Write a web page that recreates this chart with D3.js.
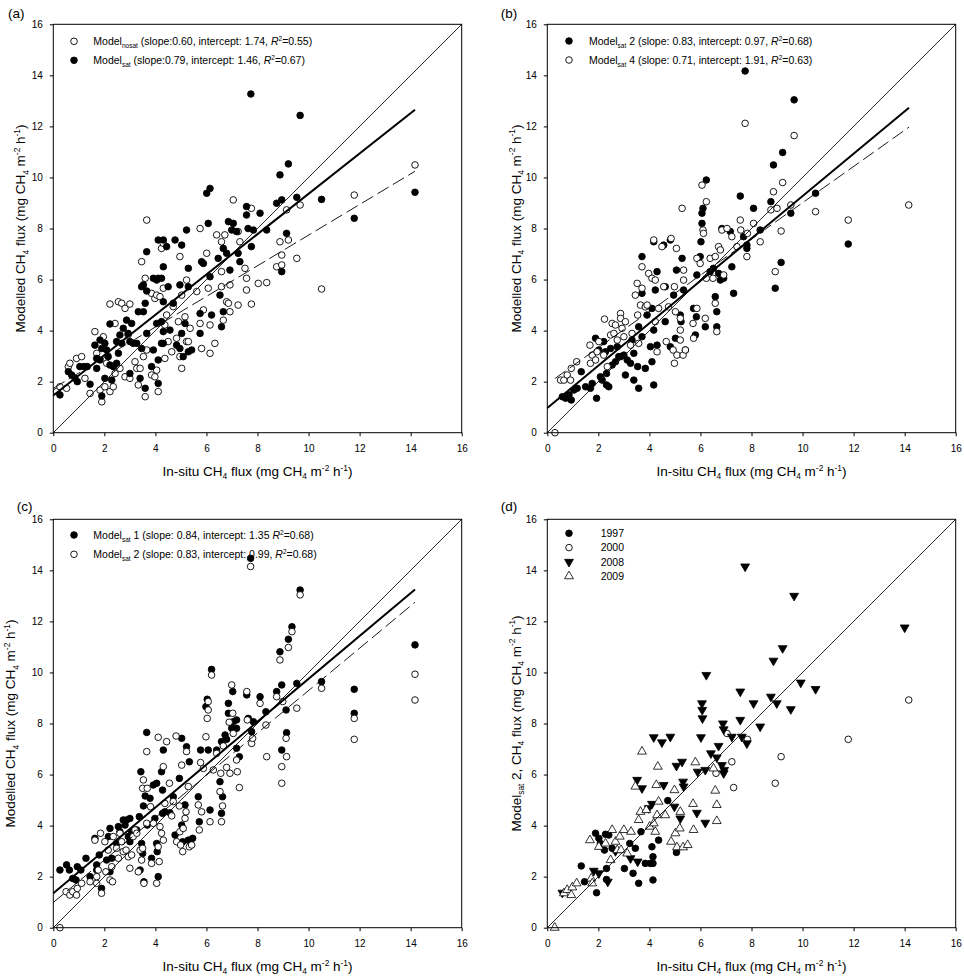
<!DOCTYPE html>
<html>
<head>
<meta charset="utf-8">
<script src="https://cdn.jsdelivr.net/npm/d3@7"></script>
<style>
body { margin: 0; background: #fff; }
svg text { font-family: "Liberation Sans", Arial, Helvetica, sans-serif; fill: #000; }
</style>
</head>
<body>
<div id="chart"></div>
<script>
// ---- data: [in-situ, modelled] in mg CH4 m-2 h-1 ----
var ticks = [0, 2, 4, 6, 8, 10, 12, 14, 16];

// (a) Model_nosat (open) and Model_sat (filled)
var aNosat = [[0.13,1.61],[0.26,1.8],[0.52,1.74],[0.59,2.59],[0.65,2.72],[0.91,2.91],[1.11,2.98],[1.24,2.13],[1.44,1.54],
  [1.63,3.96],[1.7,3.11],[1.96,3.76],[1.83,1.67],[1.9,1.21],[2.02,1.8],[2.09,2.72],[2.22,5.04],[2.22,1.61],[2.35,1.8],
  [2.42,2.32],[2.42,4.28],[2.55,5.13],[2.68,5.07],[2.81,4.87],[2.61,2.52],[2.81,2.19],[3.0,2.13],[3.0,5.04],[2.93,3.83],
  [3.2,2.78],[3.27,2.52],[3.33,1.87],[3.4,2.52],[3.46,6.7],[3.6,6.05],[3.6,1.41],[3.53,2.98],[3.66,8.33],[3.66,3.24],
  [3.85,2.26],[3.85,5.46],[3.98,5.26],[4.05,5.39],[4.18,5.33],[3.98,2.19],[4.05,2.45],[4.11,1.61],[4.24,7.22],[4.31,7.42],
  [4.31,5.66],[4.37,4.22],[4.37,2.91],[4.44,4.61],[4.5,3.57],[4.64,3.17],[4.7,4.94],[4.83,3.7],[4.9,4.35],[4.96,6.9],
  [4.96,2.98],[5.03,5.39],[5.03,2.52],[5.16,4.54],[5.22,5.98],[5.22,3.57],[5.29,3.57],[5.36,4.09],[5.62,5.53],[5.75,8.0],
  [5.75,4.28],[5.81,3.3],[5.88,4.81],[6.01,7.03],[6.07,5.66],[6.14,4.22],[6.14,3.11],[6.33,3.5],[6.4,7.75],[6.59,7.48],
  [6.59,6.31],[6.59,5.72],[6.66,4.41],[6.72,7.75],[6.79,5.13],[6.86,5.07],[6.92,5.79],[6.92,4.74],[7.05,9.12],[7.24,7.88],
  [7.24,5.0],[7.31,7.48],[7.51,6.44],[7.57,6.05],[7.57,5.59],[7.76,8.79],[7.76,5.04],[8.03,5.85],[8.36,5.88],[8.75,6.5],
  [8.88,7.48],[8.95,6.96],[8.95,6.57],[9.14,8.73],[9.21,7.55],[9.54,6.83],[9.67,8.92],[10.51,5.63],[11.79,9.31],[14.17,10.49]];
var aSat = [[0.26,1.48],[0.59,2.39],[0.72,2.26],[0.85,2.13],[0.94,2.0],[1.04,2.59],[1.2,2.59],[1.33,2.59],[1.44,1.9],
  [1.63,3.43],[1.7,2.91],[1.7,2.52],[1.83,3.63],[1.9,3.3],[1.83,2.85],[1.9,1.44],[2.02,2.13],[2.02,3.5],[2.09,3.24],
  [2.22,4.26],[2.15,2.98],[2.22,2.65],[2.29,2.06],[2.35,2.59],[2.48,3.57],[2.55,3.11],[2.48,2.72],[2.61,3.83],[2.68,3.5],
  [2.74,4.09],[2.87,4.41],[2.93,3.89],[3.0,3.57],[3.0,2.32],[3.07,4.28],[3.13,3.5],[3.27,3.5],[3.33,4.74],[3.4,2.13],
  [3.46,3.3],[3.46,5.72],[3.53,5.79],[3.53,4.74],[3.6,1.74],[3.6,5.07],[3.66,5.55],[3.66,3.89],[3.66,7.09],[3.85,2.59],
  [3.92,3.24],[3.92,6.05],[4.05,5.98],[4.11,6.05],[4.24,6.05],[4.05,4.28],[4.11,2.85],[4.11,1.93],[4.11,7.55],[4.31,7.55],
  [4.44,7.29],[4.24,4.35],[4.31,3.96],[4.24,3.5],[4.31,3.5],[4.31,5.13],[4.31,6.5],[4.5,5.72],[4.57,4.02],[4.77,7.55],
  [4.7,5.07],[4.83,3.43],[5.03,7.35],[4.96,5.79],[5.03,3.89],[4.96,3.3],[5.16,4.28],[5.09,2.98],[5.22,7.94],[5.29,6.44],
  [5.29,5.72],[5.29,3.17],[5.42,3.24],[5.75,4.67],[5.75,3.89],[5.81,6.7],[5.88,6.63],[6.01,9.38],[6.07,8.2],[6.14,9.57],
  [6.14,6.11],[6.2,4.61],[6.46,6.83],[6.53,5.39],[6.59,4.15],[6.66,4.74],[6.66,7.22],[6.79,7.03],[6.86,8.27],[6.92,6.37],
  [6.99,7.94],[7.05,8.2],[7.18,7.88],[7.24,7.03],[7.31,6.7],[7.57,8.86],[7.57,8.53],[7.63,8.0],[7.76,7.29],[7.84,7.94],
  [7.74,13.27],[8.1,8.6],[8.36,7.94],[8.75,8.99],[8.88,10.1],[8.95,9.12],[8.95,6.31],[9.14,7.81],[9.21,10.53],[9.54,9.22],
  [9.67,12.43],[10.51,9.14],[11.79,8.4],[14.17,9.42]];
var aFits = [[0.60, 1.74], [0.79, 1.46]];        // [slope, intercept] nosat, sat
var aFitRange = [[0, 14.17], [0, 14.17]];

// (b) Model_sat 2 (filled) and Model_sat 4 (open)
var bSat2 = [[0.59,1.41],[0.72,1.35],[0.85,1.48],[0.94,1.28],[1.04,1.67],[1.17,1.74],[1.33,2.39],[1.5,1.8],[1.69,1.74],
  [1.76,1.93],[1.89,3.7],[1.93,1.35],[2.02,3.24],[2.08,2.19],[2.15,2.06],[2.21,3.57],[2.28,3.17],[2.32,2.32],[2.32,1.87],
  [2.41,1.8],[2.48,3.3],[2.54,2.65],[2.67,2.78],[2.74,3.37],[2.8,2.98],[2.87,2.98],[3.0,3.04],[3.06,2.26],[3.13,2.85],
  [3.26,2.72],[3.32,3.63],[3.39,3.11],[3.39,2.06],[3.54,2.59],[3.58,1.74],[3.58,4.15],[3.71,6.9],[3.71,5.46],[3.71,3.76],
  [3.84,2.52],[3.91,4.61],[4.04,3.37],[4.1,4.87],[4.1,2.78],[4.17,1.87],[4.17,7.48],[4.17,4.02],[4.23,5.59],[4.3,6.31],
  [4.3,3.43],[4.56,7.35],[4.62,5.72],[4.62,4.35],[4.82,7.55],[4.82,3.37],[4.95,5.39],[5.02,3.7],[5.06,6.37],[5.21,4.61],
  [5.24,4.35],[5.28,6.83],[5.34,5.59],[5.41,3.24],[5.73,4.87],[5.8,3.83],[5.84,4.54],[5.86,6.18],[5.99,6.9],[6.02,7.48],
  [6.06,8.6],[6.06,8.2],[6.1,8.79],[6.19,4.15],[6.23,9.9],[6.38,6.31],[6.51,6.44],[6.58,5.33],[6.64,4.74],[6.64,4.15],
  [6.71,6.24],[6.78,5.98],[6.84,8.0],[6.91,6.05],[7.17,7.88],[7.23,6.5],[7.3,5.46],[7.56,9.27],[7.69,7.68],[7.75,14.17],
  [7.82,7.35],[7.82,7.22],[8.08,8.79],[8.34,7.94],[8.76,9.05],[8.86,10.49],[8.93,5.66],[9.16,6.67],[9.22,10.98],[9.54,8.6],
  [9.67,13.04],[10.51,9.38],[11.79,7.39]];
var bSat4 = [[0.3,0.0],[0.52,2.06],[0.65,2.06],[0.78,2.26],[0.91,2.06],[0.94,2.52],[1.15,2.78],[1.67,3.43],[1.69,2.72],
  [1.76,3.04],[1.89,2.85],[1.95,3.17],[2.02,3.57],[2.21,3.04],[2.24,4.45],[2.35,2.59],[2.48,3.83],[2.54,4.28],[2.61,3.89],
  [2.67,4.22],[2.74,3.63],[2.87,4.67],[2.87,4.48],[2.93,4.09],[3.06,4.35],[3.0,3.76],[3.26,3.43],[3.32,3.89],[3.45,5.39],
  [3.52,5.85],[3.54,4.61],[3.58,3.5],[3.65,5.0],[3.71,6.5],[3.71,5.66],[3.84,4.93],[3.91,5.0],[3.97,6.24],[4.1,6.05],
  [4.17,7.55],[4.23,5.98],[4.23,4.35],[4.3,3.17],[4.36,4.87],[4.49,7.29],[4.56,5.72],[4.66,3.57],[4.75,4.93],[4.85,7.61],
  [4.93,3.24],[4.98,5.72],[4.98,2.72],[5.02,4.74],[5.06,7.22],[5.08,3.04],[5.21,3.63],[5.21,4.02],[5.21,4.48],[5.28,8.79],
  [5.34,5.98],[5.34,6.37],[5.32,3.04],[5.41,3.24],[5.73,3.7],[5.71,4.28],[5.86,6.83],[5.86,4.87],[5.99,6.63],[6.06,9.7],
  [6.1,7.94],[6.12,7.81],[6.19,4.48],[6.23,9.05],[6.23,6.05],[6.38,6.83],[6.49,6.05],[6.58,6.9],[6.58,5.07],[6.64,3.96],
  [6.71,7.29],[6.78,7.16],[6.84,7.94],[6.91,6.18],[7.04,8.0],[7.23,7.68],[7.43,7.29],[7.56,8.33],[7.58,7.94],[7.75,12.12],
  [7.82,6.9],[7.84,7.81],[8.08,8.2],[8.34,7.48],[8.76,8.73],[8.86,9.44],[8.93,6.31],[9.0,8.79],[9.16,7.9],[9.22,9.8],
  [9.54,8.92],[9.67,11.64],[10.51,8.66],[11.79,8.33],[14.16,8.92]];
var bFits = [[0.83, 0.97], [0.71, 1.91]];        // sat 2, sat 4
var bFitRange = [[0, 14.17], [0.3, 14.17]];

// (c) Model_sat 1 (filled) and Model_sat 2 (open)
var cSat1 = [[0.26,2.26],[0.52,2.46],[0.63,2.26],[0.76,1.93],[0.89,1.87],[0.94,2.39],[1.08,2.26],[1.28,2.72],[1.44,2.0],
  [1.63,3.5],[1.7,2.46],[1.7,2.26],[1.8,2.85],[1.89,1.54],[2.09,2.65],[2.16,3.57],[2.22,3.89],[2.22,2.19],[2.29,2.72],
  [2.48,3.3],[2.55,3.96],[2.61,3.76],[2.74,4.22],[2.81,4.02],[2.87,4.22],[3.0,4.28],[2.94,3.57],[3.07,3.76],[3.0,3.37],
  [3.27,3.83],[3.37,4.35],[3.4,2.26],[3.43,6.11],[3.46,3.3],[3.5,2.91],[3.53,4.77],[3.55,1.8],[3.6,5.16],[3.66,7.65],
  [3.68,4.02],[3.79,5.07],[3.85,2.72],[3.92,5.59],[3.98,4.28],[4.05,5.66],[4.05,3.3],[4.07,2.98],[4.11,2.0],[4.24,6.11],
  [4.28,5.39],[4.31,6.96],[4.28,4.48],[4.37,4.54],[4.57,4.5],[4.7,5.13],[4.77,3.63],[4.94,5.85],[5.03,7.42],[5.03,4.02],
  [5.07,3.37],[5.16,4.81],[5.22,7.09],[5.33,6.5],[5.29,3.43],[5.46,3.5],[5.68,5.13],[5.72,4.15],[5.77,6.96],[5.98,8.66],
  [6.03,8.95],[6.07,6.96],[6.14,4.61],[6.2,10.12],[6.4,6.96],[6.53,5.72],[6.59,4.48],[6.59,7.29],[6.63,5.13],[6.73,7.55],
  [6.79,7.38],[6.86,8.79],[6.86,8.4],[6.99,7.81],[7.03,9.25],[7.05,8.07],[7.18,8.14],[7.18,7.81],[7.18,7.03],[7.29,6.7],
  [7.58,9.12],[7.64,8.2],[7.73,14.47],[7.77,7.68],[7.84,8.07],[8.1,9.05],[8.33,8.46],[8.75,9.25],[8.88,10.81],[8.95,9.51],
  [8.95,6.96],[9.12,8.53],[9.14,7.64],[9.21,11.3],[9.35,11.79],[9.54,9.57],[9.67,13.23],[10.51,9.64],[11.79,9.34],
  [11.79,8.4],[14.17,11.08]];
var cSat2 = [[0.26,0.0],[0.5,1.41],[0.65,1.28],[0.76,1.41],[0.91,1.28],[0.94,1.54],[1.11,1.74],[1.44,1.8],[1.63,3.43],
  [1.7,1.74],[1.7,2.0],[1.76,2.26],[1.85,3.7],[1.89,1.35],[2.02,3.37],[2.06,2.19],[2.15,3.04],[2.22,1.87],[2.29,2.39],
  [2.32,1.8],[2.35,3.57],[2.48,3.11],[2.55,2.72],[2.61,3.7],[2.68,3.37],[2.74,2.98],[2.85,3.04],[2.94,2.78],[3.0,2.33],
  [3.07,2.85],[3.13,3.57],[3.2,3.83],[3.27,3.7],[3.33,2.19],[3.4,3.04],[3.46,2.65],[3.5,3.11],[3.5,5.46],[3.53,5.79],
  [3.55,1.74],[3.66,6.9],[3.66,4.09],[3.68,5.46],[3.81,4.74],[3.85,2.52],[3.92,4.09],[4.05,1.74],[4.11,7.46],[4.11,3.17],
  [4.15,2.59],[4.18,3.96],[4.24,3.7],[4.31,6.31],[4.31,3.43],[4.37,4.87],[4.44,7.29],[4.55,5.66],[4.64,4.38],[4.7,4.94],
  [4.81,7.51],[4.83,3.37],[4.94,4.77],[4.96,3.76],[4.99,3.24],[5.03,6.37],[5.07,2.98],[5.09,3.89],[5.16,4.28],[5.2,4.54],
  [5.22,6.9],[5.29,5.53],[5.33,3.17],[5.42,3.24],[5.68,4.81],[5.72,3.83],[5.77,6.47],[5.81,4.54],[5.88,6.24],[5.98,7.48],
  [6.03,8.2],[6.07,8.53],[6.07,8.86],[6.14,4.15],[6.2,9.9],[6.27,6.18],[6.4,6.83],[6.53,5.33],[6.56,6.05],[6.59,4.15],
  [6.63,4.77],[6.66,7.12],[6.79,6.28],[6.89,8.05],[6.92,6.05],[6.99,9.51],[7.03,8.4],[7.05,7.61],[7.18,6.57],[7.21,6.11],
  [7.29,5.49],[7.58,9.25],[7.6,8.14],[7.73,14.15],[7.77,7.22],[7.81,7.42],[8.1,8.79],[8.33,7.94],[8.36,6.7],[8.75,9.05],
  [8.88,10.49],[8.95,6.31],[8.95,5.66],[8.99,8.86],[9.12,7.42],[9.14,6.7],[9.21,10.98],[9.35,11.6],[9.54,8.6],[9.67,13.04],
  [10.51,9.38],[11.79,8.2],[11.79,7.38],[14.17,9.93],[14.17,8.92]];
var cFits = [[0.84, 1.35], [0.83, 0.99]];        // sat 1, sat 2
var cFitRange = [[0, 14.17], [0, 14.17]];

// (d) Model_sat 2 split by year
var d1997 = [[1.33,2.42],[1.46,1.8],[1.89,3.7],[1.93,1.37],[2.02,3.5],[2.08,3.3],[2.24,3.04],[2.28,3.66],[2.32,2.32],
  [2.32,1.89],[2.41,3.63],[2.54,3.11],[3.02,2.32],[3.23,3.3],[3.36,2.13],[3.45,3.11],[3.58,1.74],[3.67,3.76],[3.84,2.52],
  [4.04,2.52],[4.1,3.17],[4.14,2.78],[4.14,2.52],[4.14,1.87],[4.36,3.43],[4.72,4.98],[5.06,2.95]];
var d2000 = [[6.61,6.05],[7.04,7.61],[7.23,6.5],[7.3,5.49],[7.84,7.38],[8.93,5.66],[9.16,6.7],[11.79,7.38],[14.16,8.92]];
var d2008 = [[0.59,1.37],[1.82,2.23],[2.02,2.13],[2.37,1.8],[2.67,3.0],[3.26,2.72],[3.54,2.59],[3.52,5.79],[3.71,5.46],
  [3.97,4.68],[4.1,4.85],[4.17,7.46],[4.49,7.26],[4.56,5.59],[4.82,7.48],[4.98,4.74],[5.06,6.34],[5.21,4.28],[5.28,6.5],
  [5.32,5.72],[5.34,5.53],[5.86,4.5],[5.89,6.11],[6.02,7.46],[6.06,8.79],[6.07,8.53],[6.08,8.2],[6.23,9.9],[6.19,4.11],
  [6.19,6.18],[6.41,6.83],[6.64,6.67],[6.71,7.12],[6.84,6.37],[6.88,8.0],[6.91,6.05],[6.93,6.18],[6.91,7.77],[7.23,7.48],
  [7.56,8.14],[7.56,9.25],[7.62,7.48],[7.75,14.15],[7.82,7.22],[8.08,8.79],[8.34,7.88],[8.76,9.05],[8.86,10.46],[8.99,8.79],
  [9.22,10.95],[9.54,8.56],[9.67,13.0],[9.93,9.6],[10.51,9.35],[14.0,11.76]];
var d2009 = [[0.29,0.0],[0.65,1.35],[0.78,1.48],[0.94,1.28],[0.98,1.58],[1.15,1.74],[1.67,3.43],[1.72,1.93],[1.76,1.74],
  [2.02,3.17],[2.28,3.3],[2.48,2.65],[2.54,3.83],[2.67,3.37],[2.74,3.04],[2.84,3.57],[2.89,3.04],[3.0,3.83],[3.13,2.91],
  [3.28,3.76],[3.45,5.53],[3.58,4.22],[3.65,4.54],[3.71,6.9],[3.88,4.61],[4.01,3.96],[4.17,4.09],[4.23,3.76],[4.27,5.59],
  [4.33,6.31],[4.36,4.94],[4.3,4.41],[4.62,4.41],[4.85,3.37],[4.98,5.39],[5.02,3.7],[5.08,3.15],[5.19,3.89],[5.21,4.54],
  [5.32,3.15],[5.5,3.24],[5.73,3.83],[5.71,4.85],[5.8,6.48],[6.51,6.24],[6.58,5.37],[6.64,4.81],[6.64,4.18]];

// ---- texts ----
var sub4 = {t: '4', sub: 1};
var xTitle = ['In-situ CH', sub4, ' flux (mg CH', sub4, ' m', {t: '-2', sup: 1}, ' h', {t: '-1', sup: 1}, ')'];
var yTitle = ['Modelled CH', sub4, ' flux (mg CH', sub4, ' m', {t: '-2', sup: 1}, ' h', {t: '-1', sup: 1}, ')'];
var dTitle = ['Model', {t: 'sat', sub: 1}, ' 2, CH', sub4, ' flux (mg CH', sub4, ' m', {t: '-2', sup: 1}, ' h', {t: '-1', sup: 1}, ')'];
function fitText(name, tag, rest, r2) {
  return ['Model', {t: name, sub: 1}, tag + ' (' + rest, {t: 'R', it: 1}, {t: '2', sup: 1}, '=' + r2 + ')'];
}

var FS_TICK = 10, FS_TITLE = 13.5, FS_LEG = 10.5, FS_LABEL = 13.5;
var SIZE = 408.4;

var svg = d3.select('#chart').append('svg')
  .attr('width', 964)
  .attr('height', 976);

function rich(textSel, parts, fs) {
  var shift = 0;
  parts.forEach(function(p) {
    var s = (typeof p === 'string') ? {t: p} : p;
    var target = s.sub ? fs * 0.28 : (s.sup ? -fs * 0.38 : 0);
    var ts = textSel.append('tspan').text(s.t).attr('dy', target - shift);
    if (s.sub || s.sup) ts.attr('font-size', fs * 0.62);
    if (s.it) ts.attr('font-style', 'italic');
    shift = target;
  });
}

function drawMark(g, kind, cx, cy) {
  if (kind == 'filled' || kind == 'open') {
    g.append('circle')
      .attr('cx', cx).attr('cy', cy).attr('r', 3.3)
      .attr('fill', kind == 'filled' ? '#000' : '#fff')
      .attr('stroke', '#000').attr('stroke-width', 0.9);
  } else {
    var down = (kind == 'tri_down');
    g.append('path')
      .attr('d', d3.symbol().type(d3.symbolTriangle).size(34)())
      .attr('transform', 'translate(' + cx + ',' + cy + ')' + (down ? ' rotate(180)' : ''))
      .attr('fill', down ? '#000' : '#fff')
      .attr('stroke', '#000').attr('stroke-width', 0.8);
  }
}

var panels = [
  {label: '(a)', lx: 8, ly: 17.5, left: 53.3, top: 24.3, yOff: -28.1, yTitle: yTitle,
   series: [{data: aNosat, kind: 'open'}, {data: aSat, kind: 'filled'}],
   fits: aFits, fitRange: aFitRange, fitStyle: ['dash', 'thick'],
   leg: {sx: 20.7, tx: 40, y0: 17, dy: 19},
   legText: [fitText('nosat', '', 'slope:0.60, intercept: 1.74, ', '0.55'),
             fitText('sat', '', 'slope:0.79, intercept: 1.46, ', '0.67')]},
  {label: '(b)', lx: 500.7, ly: 17.5, left: 547.3, top: 24.3, yOff: -26.7, yTitle: yTitle,
   series: [{data: bSat2, kind: 'filled'}, {data: bSat4, kind: 'open'}],
   fits: bFits, fitRange: bFitRange, fitStyle: ['thick', 'dash'],
   leg: {sx: 21.7, tx: 41.7, y0: 16.7, dy: 19},
   legText: [fitText('sat', ' 2', 'slope: 0.83, intercept: 0.97, ', '0.68'),
             fitText('sat', ' 4', 'slope: 0.71, intercept: 1.91, ', '0.63')]},
  {label: '(c)', lx: 16.7, ly: 510.7, left: 53.3, top: 519.3, yOff: -38.1, yTitle: yTitle,
   series: [{data: cSat1, kind: 'filled'}, {data: cSat2, kind: 'open'}],
   fits: cFits, fitRange: cFitRange, fitStyle: ['thick', 'dash'],
   leg: {sx: 20.7, tx: 40, y0: 15.7, dy: 19.3},
   legText: [fitText('sat', ' 1', 'slope: 0.84, intercept: 1.35 ', '0.68'),
             fitText('sat', ' 2', 'slope: 0.83, intercept: 0.99, ', '0.68')]},
  {label: '(d)', lx: 500.7, ly: 510.7, left: 547.3, top: 519.3, yOff: -26.7, yTitle: dTitle,
   series: [{data: d1997, kind: 'filled'}, {data: d2000, kind: 'open'},
            {data: d2008, kind: 'tri_down'}, {data: d2009, kind: 'tri_up'}],
   fits: [], fitRange: [], fitStyle: [],
   leg: {sx: 21.7, tx: 53.4, y0: 14, dy: 14.3},
   legText: [['1997'], ['2000'], ['2008'], ['2009']]}
];

function drawPanel(p) {
  var x = d3.scaleLinear().domain([0, 16]).range([0, SIZE]);
  var y = d3.scaleLinear().domain([0, 16]).range([SIZE, 0]);

  svg.append('text')
    .attr('x', p.lx).attr('y', p.ly)
    .attr('font-size', FS_LABEL)
    .text(p.label);

  var g = svg.append('g')
    .attr('transform', 'translate(' + p.left + ',' + p.top + ')');

  var xa = g.append('g')
    .attr('transform', 'translate(0,' + SIZE + ')')
    .call(d3.axisBottom(x).tickValues(ticks).tickSize(3.5).tickPadding(9).tickSizeOuter(0));
  var ya = g.append('g')
    .call(d3.axisLeft(y).tickValues(ticks).tickSize(3.5).tickPadding(7).tickSizeOuter(0));
  [xa, ya].forEach(function(a) {
    a.attr('font-family', null).attr('font-size', FS_TICK);
    a.select('.domain').remove();
    a.selectAll('line').attr('stroke', '#000');
  });

  // points, in legend order
  p.series.forEach(function(s) {
    var sg = g.append('g');
    s.data.forEach(function(d) { drawMark(sg, s.kind, x(d[0]), y(d[1])); });
  });

  // 1:1 line
  g.append('line')
    .attr('x1', x(0)).attr('y1', y(0)).attr('x2', x(16)).attr('y2', y(16))
    .attr('stroke', '#111').attr('stroke-width', 0.9);

  // regression lines
  p.fits.forEach(function(f, i) {
    var r = p.fitRange[i];
    var ln = g.append('line')
      .attr('x1', x(r[0])).attr('y1', y(f[1] + f[0] * r[0]))
      .attr('x2', x(r[1])).attr('y2', y(f[1] + f[0] * r[1]))
      .attr('stroke', '#000');
    if (p.fitStyle[i] == 'thick') {
      ln.attr('stroke-width', 2);
    } else {
      ln.attr('stroke-width', 0.9).attr('stroke-dasharray', '13,5');
    }
  });

  g.append('rect')
    .attr('width', SIZE).attr('height', SIZE)
    .attr('fill', 'none').attr('stroke', '#000').attr('stroke-width', 1);

  // legend
  p.legText.forEach(function(parts, i) {
    var cy = p.leg.y0 + i * p.leg.dy;
    drawMark(g, p.series[i].kind, p.leg.sx, cy);
    var t = g.append('text')
      .attr('x', p.leg.tx).attr('y', cy + FS_LEG * 0.36)
      .attr('font-size', FS_LEG);
    rich(t, parts, FS_LEG);
  });

  // axis titles
  var xt = g.append('text')
    .attr('x', SIZE / 2).attr('y', SIZE + 43)
    .attr('text-anchor', 'middle')
    .attr('font-size', FS_TITLE);
  rich(xt, xTitle, FS_TITLE);

  var yt = g.append('text')
    .attr('transform', 'translate(' + p.yOff + ',' + (SIZE / 2) + ') rotate(-90)')
    .attr('text-anchor', 'middle')
    .attr('font-size', FS_TITLE);
  rich(yt, p.yTitle, FS_TITLE);
}

panels.forEach(drawPanel);
</script>
</body>
</html>
